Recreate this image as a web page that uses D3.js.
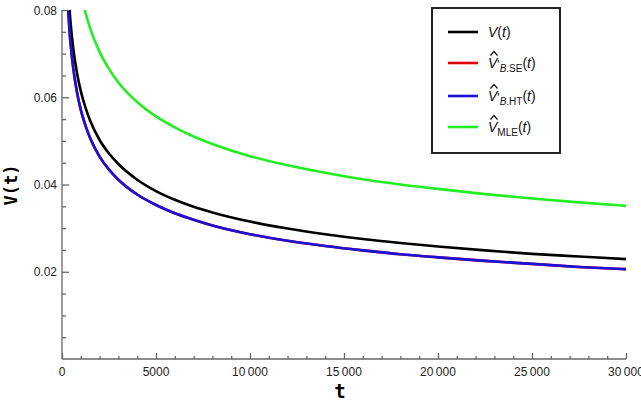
<!DOCTYPE html>
<html>
<head>
<meta charset="utf-8">
<script src="https://cdn.jsdelivr.net/npm/d3@7"></script>
<style>
  body { margin: 0; background: #fff; }
  text { font-family: "Liberation Sans", Arial, sans-serif; }
</style>
</head>
<body>
<div id="chart"></div>
<script>
// values
const tGrid = [300, 400, 500, 600, 800, 1000, 1250, 1500, 2000, 2500, 3000, 4000, 5000, 6000, 7000,
  8000, 10000, 12000, 14000, 16000, 18000, 20000, 22500, 25000, 27500, 30000];
const vTrue = [0.0871, 0.0801, 0.0751, 0.0712, 0.0655, 0.0614, 0.0576, 0.0546, 0.0502, 0.0471, 0.0447,
  0.0411, 0.0385, 0.0365, 0.0349, 0.0336, 0.0315, 0.0299, 0.0286, 0.0275, 0.0266, 0.0258, 0.0249,
  0.0241, 0.0235, 0.0229];
const vBSE = [0.0820, 0.0752, 0.0704, 0.0666, 0.0611, 0.0571, 0.0535, 0.0506, 0.0464, 0.0434, 0.0411,
  0.0377, 0.0353, 0.0334, 0.0319, 0.0306, 0.0286, 0.0271, 0.0259, 0.0249, 0.0240, 0.0233, 0.0225,
  0.0218, 0.0211, 0.0206];
const vBHT = [0.0820, 0.0752, 0.0704, 0.0666, 0.0611, 0.0571, 0.0535, 0.0506, 0.0464, 0.0434, 0.0411,
  0.0377, 0.0353, 0.0334, 0.0319, 0.0306, 0.0286, 0.0271, 0.0259, 0.0249, 0.0240, 0.0233, 0.0225,
  0.0218, 0.0211, 0.0206];
const tMLE = [1000, 1250, 1500, 2000, 2500, 3000, 4000, 5000, 6000, 7000, 8000, 10000, 12000, 14000,
  16000, 18000, 20000, 22500, 25000, 27500, 30000];
const vMLE = [0.0841, 0.0794, 0.0758, 0.0704, 0.0665, 0.0634, 0.0589, 0.0556, 0.0531, 0.0510, 0.0493,
  0.0465, 0.0444, 0.0427, 0.0412, 0.0400, 0.0390, 0.0378, 0.0368, 0.0359, 0.0351];

const xTicks = [0, 5000, 10000, 15000, 20000, 25000, 30000];
const yTicks = [0.02, 0.04, 0.06, 0.08];

const series = [
  { name: "bse", t: tGrid, v: vBSE, color: "#e00000" },
  { name: "true", t: tGrid, v: vTrue, color: "#000000" },
  { name: "mle", t: tMLE, v: vMLE, color: "#22ee22" },
  { name: "bht", t: tGrid, v: vBHT, color: "#1a10d8" }
];

const W = 641, H = 408;
const mLeft = 62, mRight = 626, mTop = 10, mBottom = 359;

const svg = d3.select("#chart").append("svg")
  .attr("width", W).attr("height", H);

const x = d3.scaleLinear().domain([0, 30000]).range([mLeft, mRight]);
const y = d3.scaleLinear().domain([0, 0.08]).range([mBottom, mTop]);

svg.append("clipPath").attr("id", "clip")
  .append("rect")
  .attr("x", mLeft).attr("y", mTop)
  .attr("width", mRight - mLeft).attr("height", mBottom - mTop);

const line = d3.line()
  .x(d => x(d[0]))
  .y(d => y(d[1]))
  .curve(d3.curveMonotoneX);

const plot = svg.append("g").attr("clip-path", "url(#clip)");
series.forEach(s => {
  plot.append("path")
    .datum(s.t.map((t, i) => [t, s.v[i]]))
    .attr("fill", "none")
    .attr("stroke", s.color)
    .attr("stroke-width", 2.6)
    .attr("d", line);
});

// axes: ticks pointing inward
const axisColor = "#666";
const fmtX = d => d >= 10000 ? String(d).replace(/(\d{2})(\d{3})$/, "$1\u2009$2") : String(d);

const xAxis = svg.append("g").attr("transform", `translate(0,${mBottom})`);
xAxis.call(d3.axisTop(x).tickValues(d3.range(0, 30001, 1000)).tickSize(3).tickFormat(""));
xAxis.selectAll(".tick line").filter(d => d % 5000 === 0).attr("y2", -6);
xAxis.selectAll("path, line").attr("stroke", axisColor).attr("stroke-width", 1.3);
xAxis.select(".domain").attr("d", `M${mLeft},0H${mRight}`);
xAxis.selectAll(".lbl").data(xTicks).join("text")
  .attr("class", "lbl")
  .attr("x", d => x(d)).attr("y", 17)
  .attr("text-anchor", "middle")
  .attr("font-size", 12).attr("fill", "#222")
  .text(fmtX);

const yAxis = svg.append("g").attr("transform", `translate(${mLeft},0)`);
yAxis.call(d3.axisRight(y).tickValues(d3.range(0.005, 0.0801, 0.005)).tickSize(4).tickFormat(""));
yAxis.selectAll(".tick line").filter(d => Math.abs(d / 0.02 - Math.round(d / 0.02)) < 1e-6).attr("x2", 7);
yAxis.selectAll("path, line").attr("stroke", axisColor).attr("stroke-width", 1.3);
yAxis.select(".domain").attr("d", `M0,${mTop}V${mBottom}`);
yAxis.selectAll(".lbl").data(yTicks).join("text")
  .attr("class", "lbl")
  .attr("x", -5).attr("y", d => y(d) + 4.5)
  .attr("text-anchor", "end")
  .attr("font-size", 12).attr("fill", "#222")
  .text(d => d.toFixed(2));

// axis titles
svg.append("text")
  .attr("x", 340).attr("y", 398)
  .attr("text-anchor", "middle")
  .attr("font-weight", "bold").attr("font-size", 19)
  .style("font-family", "'DejaVu Sans Mono', monospace")
  .text("t");
svg.append("text")
  .attr("transform", "translate(17,185) rotate(-90)")
  .attr("text-anchor", "middle")
  .attr("font-weight", "bold").attr("font-size", 17)
  .style("font-family", "'DejaVu Sans Mono', monospace")
  .text("V(t)");

// legend
svg.append("rect")
  .attr("x", 432).attr("y", 8)
  .attr("width", 128).attr("height", 145)
  .attr("fill", "#fff").attr("stroke", "#222").attr("stroke-width", 2);

const legendRows = [
  { color: "#000000", hat: false, sub: null },
  { color: "#e00000", hat: true, sub: "B.SE", prime: true },
  { color: "#1a10d8", hat: true, sub: "B.HT", prime: true },
  { color: "#22ee22", hat: true, sub: "MLE", prime: false }
];
const rowY = [32, 63, 96, 127];

legendRows.forEach((r, i) => {
  const g = svg.append("g").attr("transform", `translate(0,${rowY[i]})`);
  g.append("line")
    .attr("x1", 448).attr("x2", 478)
    .attr("stroke", r.color).attr("stroke-width", 2.6);
  const t = g.append("text").attr("x", 488).attr("y", 5).attr("font-size", 14).attr("fill", "#111");
  t.append("tspan").attr("font-style", "italic").text("V");
  if (r.sub) {
    if (r.prime) {
      t.append("tspan").attr("font-size", 12).attr("dy", 1).text("'");
      t.append("tspan").attr("font-size", 10).attr("dy", 3).attr("font-style", "italic").text(r.sub.slice(0, 1));
      t.append("tspan").attr("font-size", 10).text(r.sub.slice(1));
    } else {
      t.append("tspan").attr("font-size", 10).attr("dy", 4).text(r.sub);
    }
    t.append("tspan").attr("dy", -4).text("(");
  } else {
    t.append("tspan").text("(");
  }
  t.append("tspan").attr("font-style", "italic").text("t");
  t.append("tspan").text(")");
  if (r.hat) {
    g.append("path")
      .attr("d", "M490.5,-7.5L494,-11.5L497.5,-7.5")
      .attr("fill", "none").attr("stroke", "#111").attr("stroke-width", 1.2);
  }
});
</script>
</body>
</html>
